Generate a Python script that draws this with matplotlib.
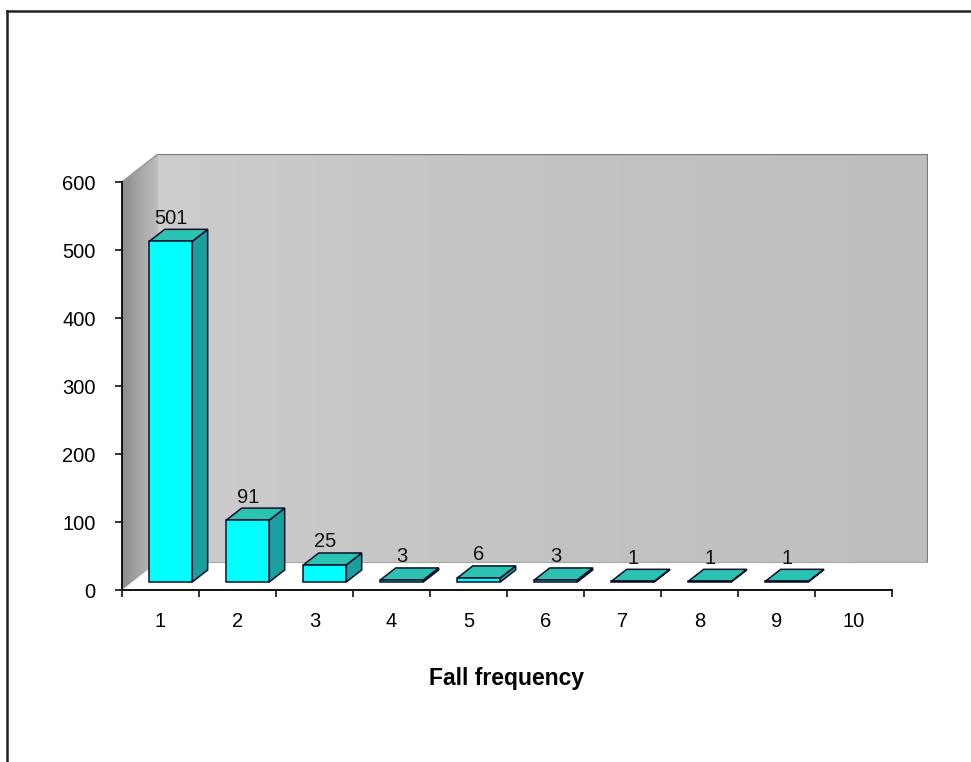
import numpy as np
import matplotlib
matplotlib.use("Agg")
import matplotlib.pyplot as plt
from matplotlib.patches import Polygon
from matplotlib.lines import Line2D
from matplotlib.colors import LinearSegmentedColormap

plt.rcParams['font.family'] = ['Liberation Sans', 'DejaVu Sans']

# Data
categories = [1, 2, 3, 4, 5, 6, 7, 8, 9, 10]
counts = [501, 91, 25, 3, 6, 3, 1, 1, 1, None]
y_ticks = [0, 100, 200, 300, 400, 500, 600]
x_label = "Fall frequency"

# 3D-look geometry (in data units)
DX, DY = 0.4675, 41.2       # depth of the scene (toward the back wall)
F0, F1 = 0.286, 0.714       # front / back fractions of depth for the bars
HALF_W = 0.279              # half width of a bar's front face
X0, X1 = 0.5, 10.5
YMAX = 600

FRONT = '#00ffff'
TOP = '#2cc2b2'
SIDE = '#1a9e9e'
EDGE = '#0d0d2a'
FS = 14.5

fig = plt.figure(figsize=(9.71, 7.62), dpi=100)
fig.patch.set_facecolor('white')

W, H = 971, 762
ax = fig.add_axes([122 / W, (H - 590) / H, (928 - 122) / W, (590 - 154) / H])
ax.set_xlim(X0, X1 + DX)
ax.set_ylim(0, YMAX + DY)
ax.patch.set_visible(False)

# Back wall with a soft gradient
back = Polygon([(X0 + DX, DY), (X1 + DX, DY), (X1 + DX, YMAX + DY), (X0 + DX, YMAX + DY)],
               closed=True, facecolor='none', edgecolor='none')
ax.add_patch(back)
cmap_back = LinearSegmentedColormap.from_list('bw', ['#cdcdcd', '#c3c3c3', '#bebebe'])
grad = np.linspace(0, 1, 256).reshape(1, -1)
im = ax.imshow(grad, cmap=cmap_back, aspect='auto', origin='lower',
               extent=(X0 + DX, X1 + DX, DY, YMAX + DY), zorder=0, interpolation='bilinear')
im.set_clip_path(back)

# Left wall with a darker gradient
left = Polygon([(X0, 0), (X0 + DX, DY), (X0 + DX, YMAX + DY), (X0, YMAX)],
               closed=True, facecolor='none', edgecolor='none')
ax.add_patch(left)
cmap_left = LinearSegmentedColormap.from_list('lw', ['#8a8a8a', '#a8a8a8', '#bdbdbd'])
im2 = ax.imshow(grad, cmap=cmap_left, aspect='auto', origin='lower',
                extent=(X0, X0 + DX, 0, YMAX + DY), zorder=0.1, interpolation='bilinear')
im2.set_clip_path(left)

# Floor
floor = Polygon([(X0, 0), (X1, 0), (X1 + DX, DY), (X0 + DX, DY)],
                closed=True, facecolor='white', edgecolor='none', zorder=0.2)
ax.add_patch(floor)

# Wall edges
ax.add_line(Line2D([X0 + DX, X1 + DX, X1 + DX], [YMAX + DY, YMAX + DY, DY],
                   color='#7a7a7a', lw=1.6, zorder=0.5))
ax.add_line(Line2D([X0, X0 + DX], [YMAX, YMAX + DY], color='#9a9a9a', lw=1.2, zorder=0.5))
ax.add_line(Line2D([X0 + DX, X1 + DX], [DY, DY], color='#a8a8a8', lw=0.8, zorder=0.5))

# Bars
for cat, v in zip(categories, counts):
    if v is None:
        continue
    fx0 = cat - HALF_W + F0 * DX
    fx1 = cat + HALF_W + F0 * DX
    fy0 = F0 * DY
    fy1 = fy0 + v
    ddx = (F1 - F0) * DX
    ddy = (F1 - F0) * DY
    side = Polygon([(fx1, fy0), (fx1 + ddx, fy0 + ddy), (fx1 + ddx, fy1 + ddy), (fx1, fy1)],
                   closed=True, facecolor=SIDE, edgecolor=EDGE, lw=1.1, zorder=3)
    top = Polygon([(fx0, fy1), (fx1, fy1), (fx1 + ddx, fy1 + ddy), (fx0 + ddx, fy1 + ddy)],
                  closed=True, facecolor=TOP, edgecolor=EDGE, lw=1.1, zorder=3)
    front = Polygon([(fx0, fy0), (fx1, fy0), (fx1, fy1), (fx0, fy1)],
                    closed=True, facecolor=FRONT, edgecolor=EDGE, lw=1.1, zorder=3.1)
    for p in (side, top, front):
        ax.add_patch(p)
    ax.annotate(str(v), xy=(cat + F0 * DX, F1 * DY + v), xytext=(0, 4),
                textcoords='offset points', ha='center', va='baseline',
                fontsize=FS, color='#111111', zorder=4)

# Axes lines and ticks
for s in ('top', 'right'):
    ax.spines[s].set_visible(False)
ax.spines['left'].set_bounds(0, YMAX)
ax.spines['bottom'].set_bounds(X0, X1)
for s in ('left', 'bottom'):
    ax.spines[s].set_color('#111111')
    ax.spines[s].set_linewidth(1.4)
    ax.spines[s].set_zorder(5)

ax.set_yticks(y_ticks)
ax.set_yticklabels([str(t) for t in y_ticks])
ax.tick_params(axis='y', length=5, width=1.2, color='#111111', pad=14, labelsize=FS)

ax.set_xticks(np.arange(X0, X1 + 0.01, 1.0))
ax.set_xticklabels([])
ax.set_xticks(categories, minor=True)
ax.set_xticklabels([str(c) for c in categories], minor=True)
ax.tick_params(axis='x', which='major', length=5, width=1.2, color='#111111')
ax.tick_params(axis='x', which='minor', length=0, pad=15.5, labelsize=FS)

ax.set_xlabel(x_label, fontsize=16.5, fontweight='bold')
ax.xaxis.label.set_va('center')
ax.xaxis.set_label_coords((507 - 122) / (928 - 122), (590 - 679) / (590 - 154))

# Outer frame (top and left edges)
fig.add_artist(Line2D([7 / W, 7 / W], [0, 1 - 11 / H], transform=fig.transFigure,
                      color='#222222', lw=1.8))
fig.add_artist(Line2D([7 / W, 1], [1 - 11 / H, 1 - 11 / H], transform=fig.transFigure,
                      color='#222222', lw=1.8))

fig.savefig('out.png', dpi=100)
